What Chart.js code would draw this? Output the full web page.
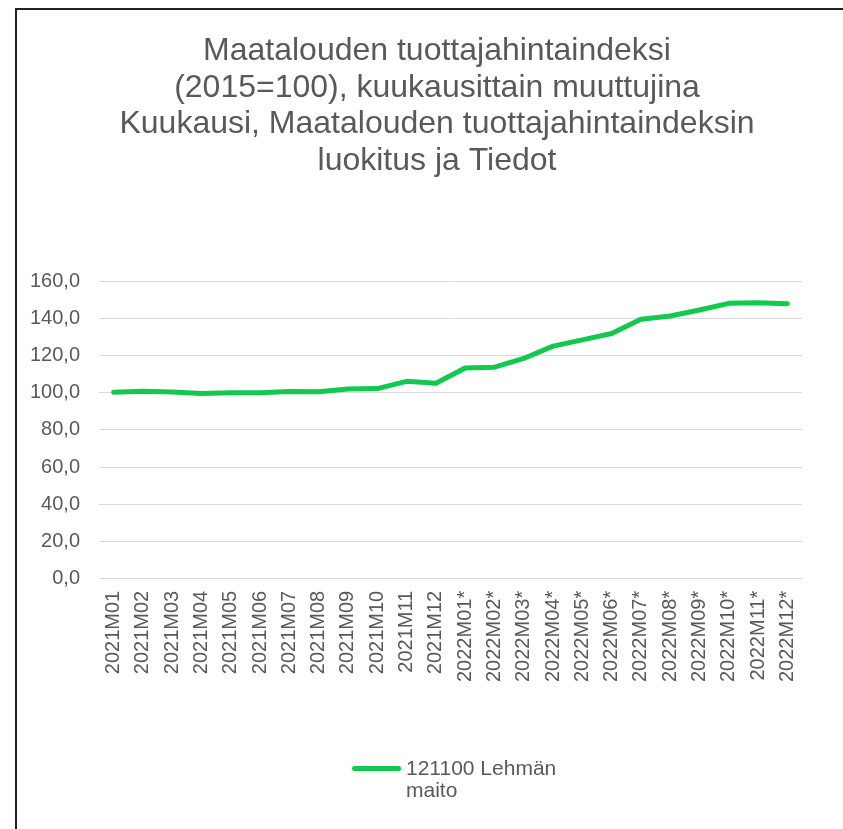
<!DOCTYPE html>
<html>
<head>
<meta charset="utf-8">
<script src="https://cdn.jsdelivr.net/npm/chart.js@4"></script>
<style>
  html, body { margin: 0; padding: 0; background: #fff; overflow: hidden; }
  #wrap { position: relative; width: 876px; height: 829px; }
  #frame { position: absolute; left: 15px; top: 8px; width: 900px; height: 900px;
           border-left: 2px solid #222; border-top: 2px solid #222; pointer-events: none; }
  #legend { position: absolute; left: 352px; top: 757px; font-family: "Liberation Sans", Arial, sans-serif;
            font-size: 21px; color: #595959; line-height: 22px; }
  #legend .swatch { position: absolute; left: 0; top: 9px; width: 49px; height: 5px;
                    border-radius: 3px; background: #12c84f; }
  #legend .txt { position: absolute; left: 54px; top: 0; width: 170px; }
</style>
</head>
<body>
<div id="wrap">
  <canvas id="chartCanvas" width="876" height="829"></canvas>
  <div id="frame"></div>
  <div id="legend"><div class="swatch"></div><div class="txt" id="legendText"></div></div>
</div>
<script>
// Data
var months = ['2021M01', '2021M02', '2021M03', '2021M04', '2021M05', '2021M06',
              '2021M07', '2021M08', '2021M09', '2021M10', '2021M11', '2021M12',
              '2022M01*', '2022M02*', '2022M03*', '2022M04*', '2022M05*', '2022M06*',
              '2022M07*', '2022M08*', '2022M09*', '2022M10*', '2022M11*', '2022M12*']
var milkIndex = [100.2, 100.8, 100.4, 99.5, 100.0, 100.0, 100.7, 100.5, 102.0, 102.2, 106.1, 105.1,
                 113.3, 113.7, 118.4, 125.0, 128.4, 131.8, 139.5, 141.2, 144.4, 148.0, 148.3, 147.8]
var seriesName = '121100 Lehmän maito'
var titleLines = ['Maatalouden tuottajahintaindeksi',
                  '(2015=100), kuukausittain muuttujina',
                  'Kuukausi, Maatalouden tuottajahintaindeksin',
                  'luokitus ja Tiedot']

var fontFamily = '"Liberation Sans", Arial, sans-serif'
var textColor = '#595959'
var lineColor = '#12c84f'

document.getElementById('legendText').textContent = seriesName

// The title is not centred over the plot, so it is drawn by a small plugin
var centredTitle = {
    id: 'centredTitle',
    afterDraw: function (chart) {
        var c = chart.ctx
        c.save()
        c.font = '32px ' + fontFamily
        c.fillStyle = textColor
        c.textAlign = 'center'
        c.textBaseline = 'alphabetic'
        titleLines.map(function (line, i) {
            c.fillText(line, 437, 60 + i * 36.7)
        })
        c.restore()
    }
}

var ctx = document.getElementById('chartCanvas')
var myChart = new Chart(ctx, {
    type: 'line',
    data: {
        labels: months,
        datasets: [{
            label: seriesName,
            data: milkIndex,
            borderColor: lineColor,
            backgroundColor: lineColor,
            borderWidth: 5,
            borderCapStyle: 'round',
            borderJoinStyle: 'round',
            pointRadius: 0,
            tension: 0
        }]
    },
    plugins: [centredTitle],
    options: {
        responsive: false,
        animation: false,
        layout: { padding: { top: 281, left: 30, right: 74, bottom: 135 } },
        plugins: {
            legend: { display: false },
            tooltip: { enabled: false },
            title: { display: false }
        },
        scales: {
            x: {
                offset: true,
                grid: { display: false, drawTicks: false },
                border: { display: false },
                ticks: {
                    color: textColor,
                    font: { family: fontFamily, size: 20 },
                    minRotation: 90,
                    maxRotation: 90,
                    autoSkip: false,
                    padding: 12
                }
            },
            y: {
                min: 0,
                max: 160,
                afterFit: function (scale) { scale.width = 69 },
                grid: { color: '#d9d9d9', lineWidth: 1, drawTicks: false },
                border: { display: false },
                ticks: {
                    stepSize: 20,
                    color: textColor,
                    font: { family: fontFamily, size: 20 },
                    padding: 19,
                    callback: function (v) { return v.toFixed(1).replace('.', ',') }
                }
            }
        }
    }
})
</script>
</body>
</html>
